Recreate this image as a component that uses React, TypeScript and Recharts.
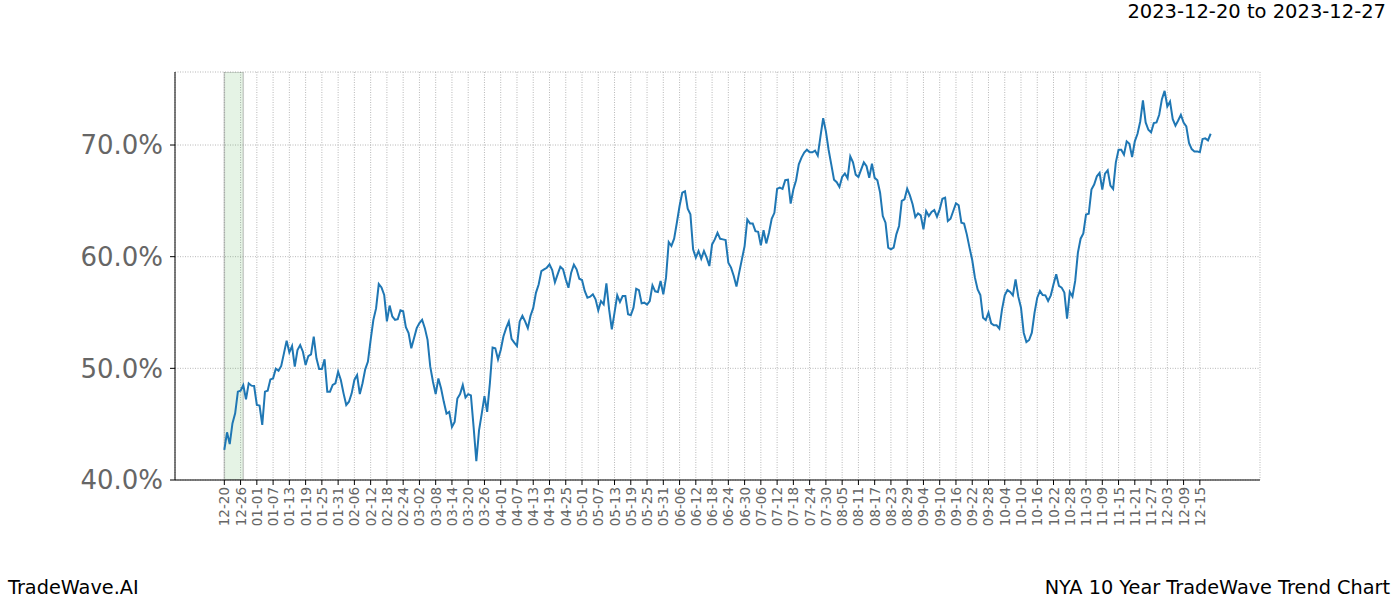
import {
  LineChart,
  Line,
  XAxis,
  YAxis,
  CartesianGrid,
  ReferenceArea,
} from "recharts";

// daily readings starting 2022-12-20 (percent)
const startDate = Date.UTC(2022, 11, 20);

const values = [
  42.69, 44.27, 43.22, 45.07, 45.97, 47.91, 48.0, 48.5, 47.22, 48.66,
  48.45, 48.42, 46.72, 46.66, 44.93, 47.91, 48.0, 49.01, 49.1, 49.97,
  49.79, 50.21, 51.34, 52.48, 51.43, 52.0, 50.15, 51.64, 52.09, 51.49,
  50.3, 51.1, 51.25, 52.84, 50.9, 49.94, 49.94, 50.81, 47.91, 47.91,
  48.51, 48.66, 49.7, 48.96, 47.76, 46.72, 47.01, 47.76, 48.96, 49.4,
  47.7, 48.66, 49.91, 50.6, 52.54, 54.33, 55.37, 57.55, 57.25, 56.57,
  54.2, 55.62, 54.65, 54.35, 54.41, 55.2, 55.11, 53.69, 53.15, 51.8,
  52.7, 53.6, 54.05, 54.35, 53.6, 52.55, 50.15, 48.8, 47.69, 49.1,
  48.2, 47.0, 45.95, 46.1, 44.74, 45.2, 47.3, 47.69, 48.5, 47.39,
  47.69, 47.57, 44.74, 41.68, 44.44, 45.95, 47.51, 46.1, 48.65, 51.86,
  51.8, 50.81, 51.65, 52.85, 53.6, 54.2, 52.64, 52.31, 52.01, 54.2,
  54.71, 54.2, 53.6, 54.71, 55.41, 56.76, 57.51, 58.71, 58.86, 59.01,
  59.31, 58.8, 57.7, 58.42, 59.1, 58.87, 57.97, 57.22, 58.57, 59.28,
  58.87, 58.03, 57.91, 56.93, 56.33, 56.42, 56.63, 56.18, 55.19, 56.03,
  55.73, 57.61, 55.28, 53.49, 54.99, 56.54, 55.94, 56.48, 56.48, 54.84,
  54.75, 55.43, 57.13, 57.01, 55.82, 55.88, 55.7, 56.03, 57.43, 56.9,
  56.84, 57.82, 56.63, 58.12, 61.31, 60.96, 61.61, 63.04, 64.54, 65.73,
  65.85, 64.3, 63.79, 60.66, 59.91, 60.51, 59.82, 60.51, 59.91, 59.16,
  61.1, 61.55, 62.14, 61.6, 61.55, 61.49, 59.46, 59.02, 58.27, 57.32,
  58.57, 59.76, 60.95, 63.33, 62.98, 62.98, 62.29, 62.23, 61.01, 62.38,
  61.19, 62.14, 63.39, 63.93, 66.07, 66.19, 66.07, 66.85, 66.9, 64.76,
  66.01, 66.85, 68.27, 68.87, 69.32, 69.58, 69.35, 69.35, 69.5, 69.05,
  70.77, 72.41, 71.22, 69.58, 68.24, 66.9, 66.67, 66.25, 67.14, 67.44,
  67.02, 68.99, 68.45, 67.35, 67.14, 67.8, 68.45, 68.1, 67.06, 68.33,
  67.06, 66.85, 65.74, 63.64, 63.04, 60.81, 60.66, 60.81, 62.0, 62.75,
  64.99, 65.13, 66.09, 65.49, 64.69, 63.55, 63.88, 63.7, 62.45, 64.09,
  63.64, 64.0, 64.18, 63.58, 64.24, 65.19, 65.28, 63.19, 63.4, 64.09,
  64.78, 64.6, 63.04, 62.96, 62.0, 60.81, 59.7, 58.12, 57.07, 56.57,
  54.54, 54.33, 54.99, 54.03, 53.85, 53.85, 53.55, 55.28, 56.54, 57.01,
  56.84, 56.54, 57.97, 56.42, 55.43, 53.19, 52.36, 52.54, 53.19, 54.99,
  56.33, 56.93, 56.57, 56.54, 56.03, 56.54, 57.53, 58.42, 57.38, 57.23,
  56.79, 54.46, 56.85, 56.43, 57.83, 60.36, 61.61, 62.08, 63.78, 63.84,
  66.01, 66.46, 67.2, 67.5, 66.01, 67.44, 67.74, 66.37, 66.07, 68.45,
  69.58, 69.58, 69.14, 70.33, 70.12, 68.93, 70.33, 71.01, 72.11, 73.99,
  72.02, 71.37, 71.13, 71.96, 72.02, 72.71, 74.11, 74.85, 73.45, 73.9,
  72.32, 71.73, 72.2, 72.71, 72.02, 71.67, 70.18, 69.64, 69.43, 69.43,
  69.35, 70.54, 70.6, 70.42, 71.01,
];

const tickLabels = [
  "12-20", "12-26", "01-01", "01-07", "01-13", "01-19", "01-25", "01-31",
  "02-06", "02-12", "02-18", "02-24", "03-02", "03-08", "03-14", "03-20",
  "03-26", "04-01", "04-07", "04-13", "04-19", "04-25", "05-01", "05-07",
  "05-13", "05-19", "05-25", "05-31", "06-06", "06-12", "06-18", "06-24",
  "06-30", "07-06", "07-12", "07-18", "07-24", "07-30", "08-05", "08-11",
  "08-17", "08-23", "08-29", "09-04", "09-10", "09-16", "09-22", "09-28",
  "10-04", "10-10", "10-16", "10-22", "10-28", "11-03", "11-09", "11-15",
  "11-21", "11-27", "12-03", "12-09", "12-15",
];
const tickDays = tickLabels.map((_, i) => i * 6);

const yTicks = [40, 50, 60, 70];

// highlighted window (days from start)
const highlight = [0, 7];

const data = values.map((v, i) => ({ day: i, value: v }));

const FONT = "'DejaVu Sans', sans-serif";

const fmtDay = (d: number) => {
  const dt = new Date(startDate + d * 86400000);
  const mm = String(dt.getUTCMonth() + 1).padStart(2, "0");
  const dd = String(dt.getUTCDate()).padStart(2, "0");
  return `${mm}-${dd}`;
};

const DateTick = ({ x, y, payload }: any) => (
  <text
    x={x}
    y={y}
    transform={`rotate(-90, ${x}, ${y})`}
    textAnchor="end"
    dominantBaseline="central"
    fill="#666"
    fontSize={13.5}
    fontFamily={FONT}
  >
    {fmtDay(payload.value)}
  </text>
);

export default function App() {
  return (
    <div
      style={{
        position: "absolute",
        left: 0,
        top: 0,
        width: 1400,
        height: 600,
        background: "#fff",
        fontFamily: FONT,
      }}
    >
      <LineChart
        width={1400}
        height={600}
        data={data}
        margin={{ top: 72, right: 140, bottom: 60, left: 75 }}
      >
        <CartesianGrid
          stroke="#999"
          strokeDasharray="1 1.5"
          strokeWidth={0.7}
        />
        <ReferenceArea
          x1={highlight[0]}
          x2={highlight[1]}
          fill="#2ca02c"
          fillOpacity={0.12}
          stroke="#888"
          strokeOpacity={0.4}
          strokeWidth={1.5}
          ifOverflow="hidden"
        />
        <XAxis
          dataKey="day"
          type="number"
          domain={[-18.2, 382.2]}
          ticks={tickDays}
          interval={0}
          allowDataOverflow
          height={60}
          tickSize={5}
          tickMargin={2}
          axisLine={{ stroke: "#000" }}
          tickLine={{ stroke: "#000" }}
          tick={<DateTick />}
        />
        <YAxis
          type="number"
          domain={[40, 76.54]}
          ticks={yTicks}
          allowDataOverflow
          width={100}
          tickSize={5}
          tickMargin={7}
          axisLine={{ stroke: "#000" }}
          tickLine={{ stroke: "#000" }}
          tick={{ fill: "#666", fontSize: 26, fontFamily: FONT }}
          tickFormatter={(v: number) => `${v.toFixed(1)}%`}
        />
        <Line
          type="linear"
          dataKey="value"
          stroke="#1f77b4"
          strokeWidth={2}
          dot={false}
          isAnimationActive={false}
        />
      </LineChart>
      <div
        style={{
          position: "absolute",
          right: 14,
          top: 2,
          fontSize: 19.5,
          lineHeight: 1,
          color: "#000",
        }}
      >
        2023-12-20 to 2023-12-27
      </div>
      <div
        style={{
          position: "absolute",
          left: 8,
          top: 578,
          fontSize: 19.3,
          lineHeight: 1,
          color: "#000",
        }}
      >
        TradeWave.AI
      </div>
      <div
        style={{
          position: "absolute",
          right: 10,
          top: 578,
          fontSize: 19.3,
          lineHeight: 1,
          color: "#000",
        }}
      >
        NYA 10 Year TradeWave Trend Chart
      </div>
    </div>
  );
}
